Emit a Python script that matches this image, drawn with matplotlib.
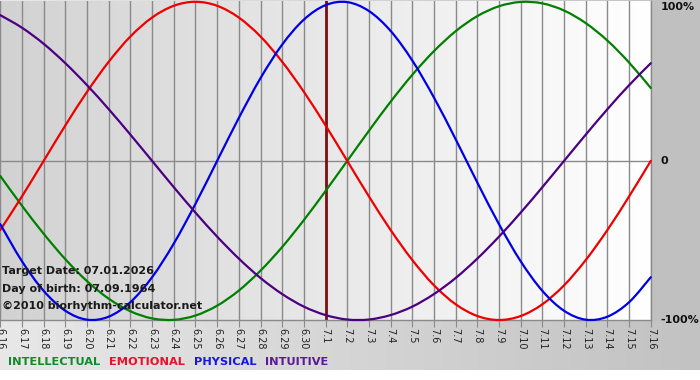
import numpy as np
import matplotlib
matplotlib.use("Agg")
import matplotlib.pyplot as plt
from matplotlib.colors import LinearSegmentedColormap
from matplotlib.path import Path
from matplotlib.patches import PathPatch

# ---- data ----
dates = ["6.16", "6.17", "6.18", "6.19", "6.20", "6.21", "6.22", "6.23", "6.24", "6.25",
         "6.26", "6.27", "6.28", "6.29", "6.30", "7.1", "7.2", "7.3", "7.4", "7.5",
         "7.6", "7.7", "7.8", "7.9", "7.10", "7.11", "7.12", "7.13", "7.14", "7.15", "7.16"]

intellectual = [-0.095, -0.282, -0.458, -0.618, -0.756, -0.866, -0.945, -0.990, -0.999, -0.972,
                -0.910, -0.815, -0.690, -0.541, -0.372, -0.189, 0.000, 0.189, 0.372, 0.541,
                0.690, 0.815, 0.910, 0.972, 0.999, 0.990, 0.945, 0.866, 0.756, 0.618, 0.458]
emotional = [-0.434, -0.223, 0.000, 0.223, 0.434, 0.623, 0.782, 0.901, 0.975, 1.000,
             0.975, 0.901, 0.782, 0.623, 0.434, 0.223, 0.000, -0.223, -0.434, -0.623,
             -0.782, -0.901, -0.975, -1.000, -0.975, -0.901, -0.782, -0.623, -0.434, -0.223, 0.000]
physical = [-0.398, -0.631, -0.817, -0.942, -0.998, -0.979, -0.888, -0.731, -0.520, -0.270,
            0.000, 0.270, 0.520, 0.731, 0.888, 0.979, 0.998, 0.942, 0.817, 0.631,
            0.398, 0.136, -0.136, -0.398, -0.631, -0.817, -0.942, -0.998, -0.979, -0.888, -0.731]
intuitive = [0.916, 0.837, 0.736, 0.614, 0.476, 0.325, 0.165, 0.000, -0.165, -0.325,
             -0.476, -0.614, -0.736, -0.837, -0.916, -0.969, -0.997, -0.997, -0.969, -0.916,
             -0.837, -0.736, -0.614, -0.476, -0.325, -0.165, 0.000, 0.165, 0.325, 0.476, 0.614]

series_names = ["INTELLECTUAL", "EMOTIONAL", "PHYSICAL", "INTUITIVE"]
series_colors = ["#008000", "#ee0000", "#0000e6", "#4b0082"]
legend_colors = ["#138a2a", "#e8102a", "#1818d8", "#5a1a9a"]
target_label = "7.1"
y_labels = ["100%", "0", "-100%"]
info_lines = ["Target Date: 07.01.2026", "Day of birth: 07.09.1964", "\u00a92010 biorhythm-calculator.net"]

W, H = 700, 380
fig = plt.figure(figsize=(W / 100, H / 100), dpi=100, facecolor="white")

# background gradient (figure area)
bg = fig.add_axes([0, 10 / H, 1, 370 / H])
bg.set_axis_off()
cm_bg = LinearSegmentedColormap.from_list("bg", ["#e8e8e8", "#c2c2c2"])
bg.imshow(np.linspace(0, 1, 256)[None, :], aspect="auto", cmap=cm_bg, extent=[0, 1, 0, 1])
bg.set_xlim(0, 1); bg.set_ylim(0, 1)
bg.add_patch(plt.Rectangle((650 / W, (380 - 320 - 10) / 370), 50 / W, 1, color="#c0c0c0", zorder=2))

# main plot axes
x = np.arange(len(dates))
ax = fig.add_axes([0.3 / W, (H - 320) / H, 650.5 / W, 319 / H])
cm_plot = LinearSegmentedColormap.from_list("pl", ["#d2d2d2", "#ffffff"])
ax.imshow(np.linspace(0, 1, 256)[None, :], aspect="auto", cmap=cm_plot,
          extent=[0, len(dates) - 1, -1.0, 1.0], zorder=0)
ax.set_xlim(0, len(dates) - 1)
ax.set_ylim(-1.0, 1.005)

for xi in x:
    ax.axvline(xi, color="#8a8a8a", lw=1.0, zorder=1)
ax.axhline(0, color="#8a8a8a", lw=1.0, zorder=1)

ax.axvline(dates.index(target_label), color="#7a1010", lw=2.0, zorder=2)


def smooth_path(xs, ys):
    pts = np.column_stack([xs, ys]).astype(float)
    ext = np.vstack([pts[0], pts, pts[-1]])
    verts = [pts[0]]
    codes = [Path.MOVETO]
    for i in range(len(pts) - 1):
        p0, p1, p2, p3 = ext[i], ext[i + 1], ext[i + 2], ext[i + 3]
        c1 = p1 + (p2 - p0) / 6.0
        c2 = p2 - (p3 - p1) / 6.0
        verts += [c1, c2, p2]
        codes += [Path.CURVE4] * 3
    return Path(verts, codes)


for vals, col in zip([intellectual, emotional, physical, intuitive], series_colors):
    patch = PathPatch(smooth_path(x, vals), facecolor="none", edgecolor=col, lw=1.6,
                      zorder=3, clip_on=False, capstyle="round", joinstyle="round")
    ax.add_patch(patch)

for s in ["left", "top"]:
    ax.spines[s].set_visible(False)
for s in ["bottom", "right"]:
    ax.spines[s].set_color("#8a8a8a")
    ax.spines[s].set_linewidth(1.0)

ax.set_xticks(x)
ax.set_xticklabels(dates, rotation=-90, fontsize=7, color="#222222")
ax.tick_params(axis="x", length=5, color="#8a8a8a", pad=1)
ax.set_yticks([])

for yv, lab in zip([1.0, 0.0, -1.0], y_labels):
    ax.text(1.015, (yv + 1.0) / 2.005, lab, transform=ax.transAxes, fontsize=8,
            fontweight="bold", color="#111111", va="center" if lab != "100%" else "top",
            ha="left")

for i, line in enumerate(info_lines):
    fig.text(2 / W, 1 - (271 + i * 17.5) / H, line, fontsize=8, fontweight="bold",
             color="#1a1a1a", va="center", ha="left")

xpos = 8 / W
r = fig.canvas.get_renderer()
for name, col in zip(series_names, legend_colors):
    t = fig.text(xpos, 1 - 362 / H, name, fontsize=8.2, fontweight="bold", color=col,
                 va="center", ha="left")
    bb = t.get_window_extent(renderer=r)
    xpos += (bb.width + 9) / W

fig.savefig("out.png", dpi=100, facecolor=fig.get_facecolor())
